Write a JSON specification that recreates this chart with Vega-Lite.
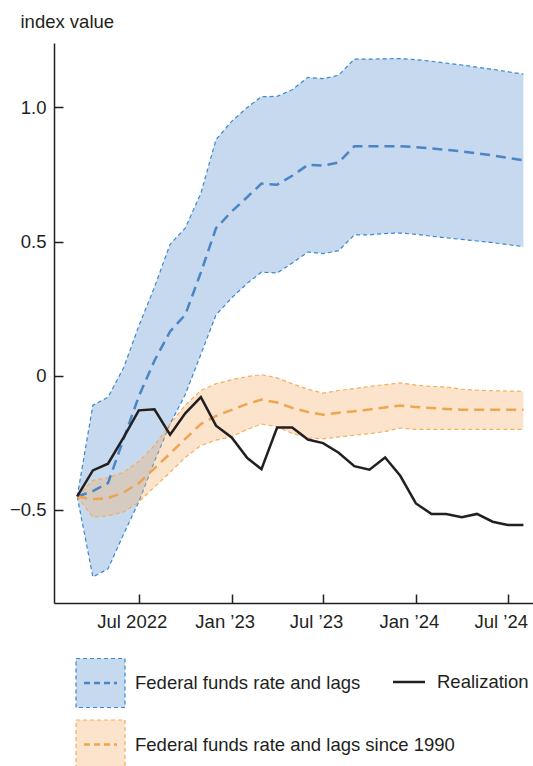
{
  "$schema": "https://vega.github.io/schema/vega-lite/v6.json",
  "width": 479,
  "height": 560,
  "autosize": {"type": "none"},
  "padding": {"left": 54, "top": 43, "right": 0, "bottom": 163},
  "background": "white",
  "config": {
    "view": {"stroke": null},
    "font": "Liberation Sans",
    "axis": {"labelFont": "Liberation Sans", "titleFont": "Liberation Sans", "grid": false},
    "legend": {"labelFont": "Liberation Sans", "labelFontSize": 18.5, "labelColor": "#231f20", "labelLimit": 600, "padding": 0, "orient": "none"}
  },
  "data": {
    "values": [
      {"date": "2022-03-01", "bhi": -0.45, "bmid": -0.45, "blo": -0.45, "ohi": -0.45, "omid": -0.45, "olo": -0.45, "real": -0.45},
      {"date": "2022-04-01", "bhi": -0.11, "bmid": -0.43, "blo": -0.75, "ohi": -0.39, "omid": -0.46, "olo": -0.527, "real": -0.353},
      {"date": "2022-05-01", "bhi": -0.08, "bmid": -0.40, "blo": -0.72, "ohi": -0.38, "omid": -0.456, "olo": -0.522, "real": -0.328},
      {"date": "2022-06-01", "bhi": 0.03, "bmid": -0.235, "blo": -0.59, "ohi": -0.36, "omid": -0.435, "olo": -0.508, "real": -0.23},
      {"date": "2022-07-01", "bhi": 0.185, "bmid": -0.077, "blo": -0.47, "ohi": -0.32, "omid": -0.40, "olo": -0.47, "real": -0.129},
      {"date": "2022-08-01", "bhi": 0.33, "bmid": 0.056, "blo": -0.32, "ohi": -0.26, "omid": -0.345, "olo": -0.415, "real": -0.125},
      {"date": "2022-09-01", "bhi": 0.49, "bmid": 0.165, "blo": -0.18, "ohi": -0.18, "omid": -0.29, "olo": -0.36, "real": -0.22},
      {"date": "2022-10-01", "bhi": 0.55, "bmid": 0.227, "blo": -0.07, "ohi": -0.11, "omid": -0.235, "olo": -0.305, "real": -0.14},
      {"date": "2022-11-01", "bhi": 0.68, "bmid": 0.385, "blo": 0.08, "ohi": -0.055, "omid": -0.18, "olo": -0.26, "real": -0.08},
      {"date": "2022-12-01", "bhi": 0.88, "bmid": 0.55, "blo": 0.227, "ohi": -0.03, "omid": -0.15, "olo": -0.24, "real": -0.186},
      {"date": "2023-01-01", "bhi": 0.948, "bmid": 0.612, "blo": 0.29, "ohi": -0.015, "omid": -0.127, "olo": -0.227, "real": -0.23},
      {"date": "2023-02-01", "bhi": 1.0, "bmid": 0.666, "blo": 0.345, "ohi": -0.003, "omid": -0.105, "olo": -0.2, "real": -0.307},
      {"date": "2023-03-01", "bhi": 1.04, "bmid": 0.716, "blo": 0.386, "ohi": 0.004, "omid": -0.089, "olo": -0.18, "real": -0.348},
      {"date": "2023-04-01", "bhi": 1.041, "bmid": 0.712, "blo": 0.383, "ohi": -0.008, "omid": -0.1, "olo": -0.19, "real": -0.193},
      {"date": "2023-05-01", "bhi": 1.066, "bmid": 0.745, "blo": 0.42, "ohi": -0.03, "omid": -0.12, "olo": -0.215, "real": -0.193},
      {"date": "2023-06-01", "bhi": 1.112, "bmid": 0.786, "blo": 0.461, "ohi": -0.05, "omid": -0.135, "olo": -0.232, "real": -0.238},
      {"date": "2023-07-01", "bhi": 1.107, "bmid": 0.783, "blo": 0.455, "ohi": -0.065, "omid": -0.145, "olo": -0.235, "real": -0.251},
      {"date": "2023-08-01", "bhi": 1.12, "bmid": 0.795, "blo": 0.466, "ohi": -0.055, "omid": -0.138, "olo": -0.228, "real": -0.287},
      {"date": "2023-09-01", "bhi": 1.18, "bmid": 0.855, "blo": 0.525, "ohi": -0.048, "omid": -0.132, "olo": -0.222, "real": -0.337},
      {"date": "2023-10-01", "bhi": 1.18, "bmid": 0.855, "blo": 0.525, "ohi": -0.04, "omid": -0.126, "olo": -0.216, "real": -0.35},
      {"date": "2023-11-01", "bhi": 1.181, "bmid": 0.855, "blo": 0.53, "ohi": -0.033, "omid": -0.118, "olo": -0.208, "real": -0.305},
      {"date": "2023-12-01", "bhi": 1.182, "bmid": 0.855, "blo": 0.532, "ohi": -0.027, "omid": -0.111, "olo": -0.195, "real": -0.373},
      {"date": "2024-01-01", "bhi": 1.178, "bmid": 0.852, "blo": 0.527, "ohi": -0.035, "omid": -0.117, "olo": -0.2, "real": -0.476},
      {"date": "2024-02-01", "bhi": 1.172, "bmid": 0.847, "blo": 0.52, "ohi": -0.04, "omid": -0.12, "olo": -0.2, "real": -0.515},
      {"date": "2024-03-01", "bhi": 1.165, "bmid": 0.842, "blo": 0.514, "ohi": -0.042, "omid": -0.124, "olo": -0.2, "real": -0.515},
      {"date": "2024-04-01", "bhi": 1.158, "bmid": 0.836, "blo": 0.508, "ohi": -0.05, "omid": -0.127, "olo": -0.2, "real": -0.527},
      {"date": "2024-05-01", "bhi": 1.15, "bmid": 0.829, "blo": 0.502, "ohi": -0.054, "omid": -0.127, "olo": -0.2, "real": -0.515},
      {"date": "2024-06-01", "bhi": 1.142, "bmid": 0.821, "blo": 0.496, "ohi": -0.056, "omid": -0.127, "olo": -0.2, "real": -0.544},
      {"date": "2024-07-01", "bhi": 1.133, "bmid": 0.812, "blo": 0.489, "ohi": -0.057, "omid": -0.127, "olo": -0.2, "real": -0.556},
      {"date": "2024-08-01", "bhi": 1.124, "bmid": 0.803, "blo": 0.481, "ohi": -0.058, "omid": -0.127, "olo": -0.2, "real": -0.556}
    ]
  },
  "encoding": {
    "x": {
      "field": "date",
      "type": "temporal",
      "scale": {
        "type": "utc",
        "domain": [
          {"year": 2022, "month": 1, "date": 14, "utc": true},
          {"year": 2024, "month": 8, "date": 20, "utc": true}
        ],
        "nice": false
      },
      "axis": {
        "title": null,
        "grid": false,
        "values": [
          {"year": 2022, "month": 7, "date": 1, "utc": true},
          {"year": 2023, "month": 1, "date": 1, "utc": true},
          {"year": 2023, "month": 7, "date": 1, "utc": true},
          {"year": 2024, "month": 1, "date": 1, "utc": true},
          {"year": 2024, "month": 7, "date": 1, "utc": true}
        ],
        "labelExpr": "utcFormat(datum.value, '%Y') === '2022' ? utcFormat(datum.value, '%b %Y') : utcFormat(datum.value, '%b ’%y')",
        "tickSize": -9,
        "tickWidth": 1.5,
        "tickColor": "#231f20",
        "domainColor": "#231f20",
        "domainWidth": 1.5,
        "labelFontSize": 18.5,
        "labelColor": "#231f20",
        "labelPadding": 18,
        "labelOffset": -7,
        "labelFlush": false,
        "labelOverlap": false
      }
    },
    "y": {
      "type": "quantitative",
      "scale": {"domain": [-0.847, 1.24], "nice": false, "zero": false},
      "axis": {
        "title": "index value",
        "grid": false,
        "values": [-0.5, 0, 0.5, 1],
        "labelExpr": "datum.value === 0 ? '0' : replace(format(datum.value, '.1f'), '-', '−')",
        "tickSize": -9,
        "tickWidth": 1.5,
        "tickColor": "#231f20",
        "domainColor": "#231f20",
        "domainWidth": 1.5,
        "labelFontSize": 18.5,
        "labelColor": "#231f20",
        "labelPadding": 17,
        "titleAngle": 0,
        "titleX": -34,
        "titleY": -16,
        "titleAlign": "left",
        "titleBaseline": "alphabetic",
        "titleFontSize": 18.5,
        "titleFontWeight": "normal",
        "titleColor": "#231f20"
      }
    }
  },
  "layer": [
    {
      "mark": {"type": "area", "fillOpacity": 1},
      "encoding": {
        "y": {"field": "blo"},
        "y2": {"field": "bhi"},
        "fill": {
          "datum": "Federal funds rate and lags",
          "type": "nominal",
          "scale": {"domain": ["Federal funds rate and lags"], "range": ["#c6d9ee"]},
          "legend": {
            "title": null,
            "legendX": 21,
            "legendY": 614.5,
            "symbolType": "M-1,-1H1V1H-1Z",
            "symbolSize": 2401,
            "symbolStrokeColor": "#3a88cf",
            "symbolStrokeWidth": 1.2,
            "symbolDash": [4, 3],
            "labelOffset": 9
          }
        }
      }
    },
    {
      "mark": {"type": "line", "color": "#3a88cf", "strokeWidth": 1.2, "strokeDash": [4, 3]},
      "encoding": {"y": {"field": "bhi"}}
    },
    {
      "mark": {"type": "line", "color": "#3a88cf", "strokeWidth": 1.2, "strokeDash": [4, 3]},
      "encoding": {"y": {"field": "blo"}}
    },
    {
      "mark": {"type": "area", "color": "#f4b26b", "fillOpacity": 0.35},
      "encoding": {
        "y": {"field": "olo"},
        "y2": {"field": "ohi"}
      }
    },
    {
      "mark": {"type": "line", "color": "#f2ae62", "strokeWidth": 1.2, "strokeDash": [4, 3]},
      "encoding": {"y": {"field": "ohi"}}
    },
    {
      "mark": {"type": "line", "color": "#f2ae62", "strokeWidth": 1.2, "strokeDash": [4, 3], "fillOpacity": 0},
      "encoding": {
        "y": {"field": "olo"},
        "fill": {
          "datum": "Federal funds rate and lags since 1990",
          "type": "nominal",
          "scale": {"domain": ["Federal funds rate and lags since 1990"], "range": ["#fbe4cb"]},
          "legend": {
            "title": null,
            "legendX": 21,
            "legendY": 676,
            "symbolType": "M-1,-1H1V1H-1Z",
            "symbolSize": 2401,
            "symbolStrokeColor": "#f2ae62",
            "symbolStrokeWidth": 1.2,
            "symbolDash": [4, 3],
            "labelOffset": 9
          }
        }
      }
    },
    {
      "mark": {"type": "line", "strokeWidth": 2.5, "strokeDash": [10, 6]},
      "encoding": {
        "y": {"field": "bmid"},
        "color": {
          "datum": "Federal funds rate and lags",
          "type": "nominal",
          "scale": {"domain": ["Federal funds rate and lags"], "range": ["#4a85c6"]},
          "legend": {
            "title": null,
            "legendX": 28.5,
            "legendY": 622,
            "symbolType": "M-1,0H1",
            "symbolSize": 1089,
            "symbolStrokeWidth": 2.5,
            "symbolDash": [6, 4],
            "labelExpr": "''"
          }
        }
      }
    },
    {
      "mark": {"type": "line", "strokeWidth": 2.5, "strokeDash": [10, 6]},
      "encoding": {
        "y": {"field": "omid"},
        "color": {
          "datum": "Federal funds rate and lags since 1990",
          "type": "nominal",
          "scale": {"domain": ["Federal funds rate and lags since 1990"], "range": ["#eea451"]},
          "legend": {
            "title": null,
            "legendX": 28.5,
            "legendY": 683.5,
            "symbolType": "M-1,0H1",
            "symbolSize": 1089,
            "symbolStrokeWidth": 2.5,
            "symbolDash": [6, 4],
            "labelExpr": "''"
          }
        }
      }
    },
    {
      "mark": {"type": "line", "strokeWidth": 2.5},
      "encoding": {
        "y": {"field": "real"},
        "color": {
          "datum": "Realization",
          "type": "nominal",
          "scale": {"domain": ["Realization"], "range": ["#231f20"]},
          "legend": {
            "title": null,
            "legendX": 337.5,
            "legendY": 621.5,
            "symbolType": "M-1,0H1",
            "symbolSize": 1024,
            "symbolStrokeWidth": 2.5,
            "labelOffset": 10.5
          }
        }
      }
    }
  ],
  "resolve": {"scale": {"color": "independent", "fill": "independent"}}
}
